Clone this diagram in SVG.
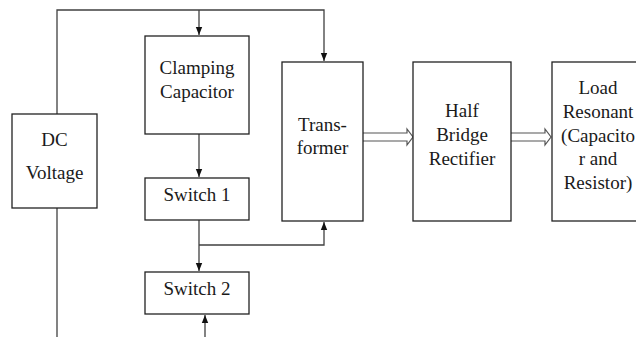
<svg xmlns="http://www.w3.org/2000/svg" width="636" height="337" viewBox="0 0 636 337">
  <style>
    .box { fill: #ffffff; stroke: #222222; stroke-width: 1.3; }
    .wire { fill: none; stroke: #404040; stroke-width: 1.3; }
    .hollow { fill: #ffffff; stroke: #555555; stroke-width: 1.2; stroke-linejoin: miter; }
    .lbl { font-family: "Liberation Serif", "Times New Roman", serif; font-size: 19px; fill: #1a1a1a; text-anchor: middle; }
  </style>
  <defs>
    <marker id="arr" markerWidth="8" markerHeight="8" refX="8" refY="4" orient="auto" markerUnits="userSpaceOnUse">
      <path d="M0,0.8 L8,4 L0,7.2 Z" fill="#111111"/>
    </marker>
  </defs>
  <rect width="636" height="337" fill="#ffffff"/>

  <g id="connectors">
    <!-- supply rail from DC source over the top -->
    <path class="wire" d="M57,114 V10 H324 V61" marker-end="url(#arr)"/>
    <path class="wire" d="M199,10 V35" marker-end="url(#arr)"/>
    <!-- clamping capacitor to switch 1 -->
    <path class="wire" d="M199,134 V177" marker-end="url(#arr)"/>
    <!-- switch 1 to switch 2 -->
    <path class="wire" d="M199,220 V271" marker-end="url(#arr)"/>
    <!-- midpoint to transformer -->
    <path class="wire" d="M199,245 H324 V222" marker-end="url(#arr)"/>
    <!-- return into switch 2 -->
    <path class="wire" d="M205,337 V315" marker-end="url(#arr)"/>
    <!-- DC source lower lead -->
    <path class="wire" d="M57,208 V337"/>
    <!-- power flow arrows -->
    <path class="hollow" d="M363,133 H407 V129 L413,137 L407,145 V141 H363"/>
    <path class="hollow" d="M511,133 H545 V129 L551,137 L545,145 V141 H511"/>
  </g>

  <g id="dc-voltage">
    <rect class="box" x="12" y="114" width="85" height="94"/>
    <text class="lbl" x="54.5" y="146">DC</text>
    <text class="lbl" x="54.5" y="179">Voltage</text>
  </g>

  <g id="clamping-capacitor">
    <rect class="box" x="145" y="36" width="104" height="98"/>
    <text class="lbl" x="197" y="74">Clamping</text>
    <text class="lbl" x="197" y="98">Capacitor</text>
  </g>

  <g id="switch-1">
    <rect class="box" x="145" y="178" width="104" height="42"/>
    <text class="lbl" x="197" y="201">Switch 1</text>
  </g>

  <g id="switch-2">
    <rect class="box" x="145" y="272" width="104" height="42"/>
    <text class="lbl" x="197" y="295">Switch 2</text>
  </g>

  <g id="transformer">
    <rect class="box" x="282" y="62" width="81" height="159"/>
    <text class="lbl" x="322.5" y="131">Trans-</text>
    <text class="lbl" x="322.5" y="154">former</text>
  </g>

  <g id="half-bridge-rectifier">
    <rect class="box" x="413" y="62" width="98" height="159"/>
    <text class="lbl" x="462" y="117">Half</text>
    <text class="lbl" x="462" y="141">Bridge</text>
    <text class="lbl" x="462" y="165">Rectifier</text>
  </g>

  <g id="load-resonant">
    <rect class="box" x="552" y="62" width="100" height="159"/>
    <text class="lbl" x="598" y="94">Load</text>
    <text class="lbl" x="598" y="118">Resonant</text>
    <text class="lbl" x="598" y="142">(Capacito</text>
    <text class="lbl" x="598" y="165">r and</text>
    <text class="lbl" x="598" y="189">Resistor)</text>
  </g>
</svg>
